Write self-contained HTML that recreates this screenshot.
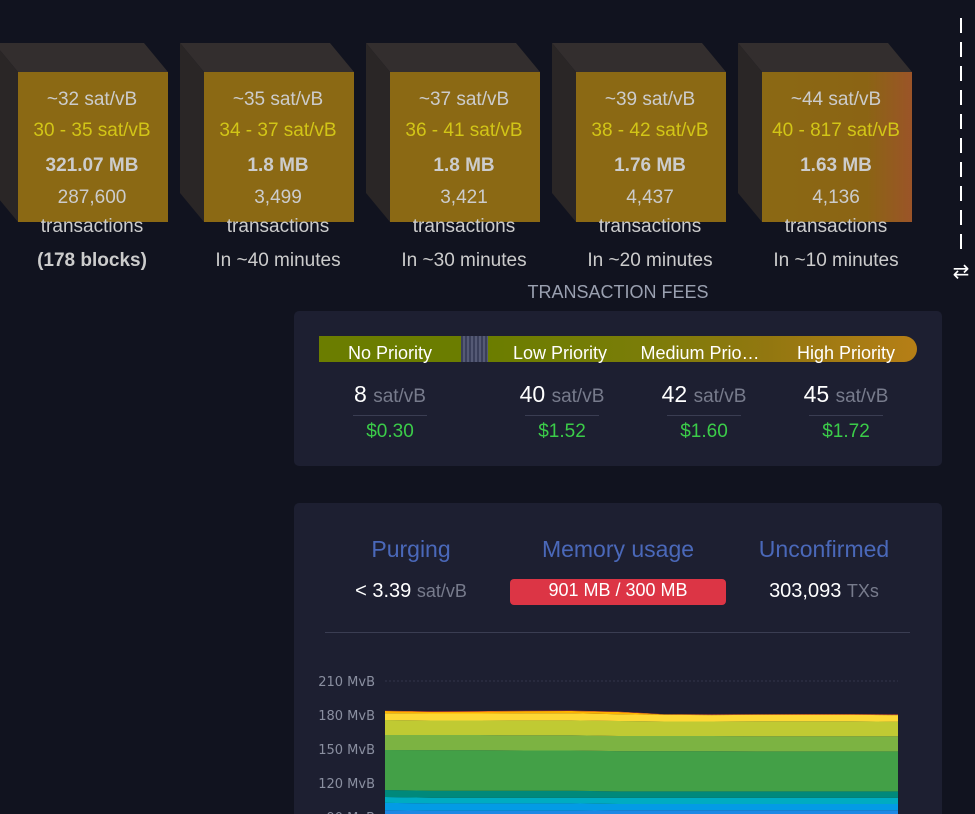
<!DOCTYPE html>
<html><head><meta charset="utf-8">
<style>
*{box-sizing:border-box;margin:0;padding:0}
body{width:975px;height:814px;overflow:hidden;background:#11131f;font-family:"Liberation Sans",sans-serif;position:relative;color:#fff}
.abs{position:absolute}
.t{position:absolute;width:186px;text-align:center;color:#ccc;font-size:19px;white-space:nowrap}
.y{color:#d2c517}
.b{font-weight:bold}
.panel{position:absolute;background:#1d1f31;border-radius:5px}
.c{position:absolute;text-align:center;white-space:nowrap}
</style></head><body>
<svg class="abs" style="left:0;top:0" width="975" height="290">
<defs>
<linearGradient id="g5" x1="0" x2="1"><stop offset="0" stop-color="#8b6914"/><stop offset="0.7" stop-color="#8b6414"/><stop offset="1" stop-color="#9b5428"/></linearGradient>
</defs>
<g id="blocks"></g>
<line x1="961" y1="18" x2="961" y2="252" stroke="#fff" stroke-width="2" stroke-dasharray="15,9"/>
<text x="961" y="278" fill="#fff" font-size="20" text-anchor="middle" font-family="DejaVu Sans">⇄</text>
</svg>
<div id="btext"></div>

<div class="c" style="left:468px;top:282px;width:300px;color:#9aa0b0;font-size:18px">TRANSACTION FEES</div>

<div class="panel" style="left:294px;top:311px;width:648px;height:155px">
  <div class="abs" style="left:25px;top:25px;width:142px;height:26px;background:#6b7d00"></div>
  <div class="abs" style="left:167px;top:25px;width:27px;height:26px;background:repeating-linear-gradient(90deg,#3a3f5a 0 2px,#555a75 2px 4px)"></div>
  <div class="abs" style="left:194px;top:25px;width:429px;height:26px;background:linear-gradient(90deg,#6b7d00,#7a7d08 35%,#927710 65%,#b67f16);border-radius:0 13px 13px 0"></div>
  <div class="c" style="left:25px;top:32px;width:142px;font-size:18px">No Priority</div>
  <div class="c" style="left:196px;top:32px;width:140px;font-size:18px">Low Priority</div>
  <div class="c" style="left:340px;top:32px;width:132px;font-size:18px">Medium Prio…</div>
  <div class="c" style="left:482px;top:32px;width:140px;font-size:18px">High Priority</div>
  <div id="fees"></div>
</div>

<div class="panel" style="left:294px;top:503px;width:648px;height:311px;border-radius:5px 5px 0 0">
  <div class="c" style="left:17px;top:33px;width:200px;color:#4a68b9;font-size:23px">Purging</div>
  <div class="c" style="left:224px;top:33px;width:200px;color:#4a68b9;font-size:23px">Memory usage</div>
  <div class="c" style="left:430px;top:33px;width:200px;color:#4a68b9;font-size:23px">Unconfirmed</div>
  <div class="c" style="left:17px;top:77px;width:200px;font-size:20px">&lt; 3.39 <span style="color:#777b8c;font-size:18px">sat/vB</span></div>
  <div class="c" style="left:216px;top:76px;width:216px;height:26px;background:#dc3545;border-radius:4px;font-size:18px;line-height:23px">901 MB / 300 MB</div>
  <div class="c" style="left:430px;top:77px;width:200px;font-size:20px">303,093 <span style="color:#777b8c;font-size:18px">TXs</span></div>
  <div class="abs" style="left:31px;top:129px;width:585px;height:1px;background:#3a3d52"></div>
</div>

<svg id="chart" class="abs" style="left:0;top:0" width="975" height="814"></svg>

<script>
const NS='http://www.w3.org/2000/svg';
const feeMedian=['~32 sat/vB','~35 sat/vB','~37 sat/vB','~39 sat/vB','~44 sat/vB'];
const feeRange=['30 - 35 sat/vB','34 - 37 sat/vB','36 - 41 sat/vB','38 - 42 sat/vB','40 - 817 sat/vB'];
const blockSize=['321.07 MB','1.8 MB','1.8 MB','1.76 MB','1.63 MB'];
const txCount=['287,600','3,499','3,421','4,437','4,136'];
const eta=['(178 blocks)','In ~40 minutes','In ~30 minutes','In ~20 minutes','In ~10 minutes'];
const bg=document.getElementById('blocks'),bt=document.getElementById('btext');
for(let i=0;i<5;i++){
  const x=-6+186*i;
  const g=document.createElementNS(NS,'g');
  
  
  const poly=(pts,f)=>{const p=document.createElementNS(NS,'polygon');p.setAttribute('points',pts);p.setAttribute('fill',f);g.appendChild(p);};
  poly(`${x},43 ${x+150},43 ${x+174},72 ${x+24},72`,'#332e2e');
  poly(`${x},43 ${x+24},72 ${x+24},222 ${x},193`,'#2a2626');
  const r=document.createElementNS(NS,'rect');
  r.setAttribute('x',x+24);r.setAttribute('y',72);r.setAttribute('width',150);r.setAttribute('height',150);
  r.setAttribute('fill',i==4?'url(#g5)':'#8b6914');g.appendChild(r);
  bg.appendChild(g);
  const cx=x+99-94;
  const lines=[[feeMedian[i],89,''],[feeRange[i],120,'y'],[blockSize[i],155,'b'],[txCount[i],187,''],['transactions',216,''],[eta[i],250,i==0?'b':'']];
  lines.forEach(([s,top,cl],k)=>{const d=document.createElement('div');d.className='t '+cl;d.style.left=cx+'px';d.style.top=top+'px';d.textContent=s;
    
    
    bt.appendChild(d);});
}
const feeRates=['8','40','42','45'];
const feeUsd=['$0.30','$1.52','$1.60','$1.72'];
const feeCx=[96,268,410,552];
const fe=document.getElementById('fees');
feeRates.forEach((v,i)=>{
  const d=document.createElement('div');d.className='c';d.style.left=(feeCx[i]-60)+'px';d.style.top='69px';d.style.width='120px';
  d.innerHTML=`<div style="font-size:23px;line-height:28px">${v} <span style="color:#777b8c;font-size:19px">sat/vB</span></div><div style="width:74px;height:1px;background:#3a3d52;margin:4px auto 5px"></div><div style="color:#3bcc49;font-size:19px">${feeUsd[i]}</div>`;
  
  
  fe.appendChild(d);
});
const yTicks=[90,120,150,180,210];
const tBlue=[96,95.5,95.5,95.5,95.5,96,96,96,96,96,96,96];
const tBlue2=[6.5,6.5,6.5,6.5,6.5,5.5,5.5,5.5,5.5,5.5,5.5,5.5];
const tCyan=[5.1,5,5,5,5,5.5,5.5,5.5,5.5,5.5,5.5,5.5];
const tTeal=[6.2,6.2,6.2,6.2,6.2,5.6,5.6,5.6,5.6,5.6,5.6,5.6];
const tGreen=[35.3,35.8,35.8,35.5,35.5,35.5,35.5,35.5,35.3,35.3,35.3,35.3];
const tLGreen=[13.3,13.3,13.3,13.4,13.4,13.4,13.4,13.4,13.4,13.4,13.4,13.4];
const tLime=[13.2,12.8,12.8,13.2,13.2,13.2,12.8,12.8,13.2,13.2,13.2,12.8];
const tYellow=[5.9,6.2,6.2,6.2,6.2,6,5.8,5.6,5.6,5.6,5.6,5.8];
const tOrange=[2,1.5,1.7,1.9,2,2,0.4,0.3,0.3,0.3,0.3,0.3];
const tRed=[0.3,0.4,0.4,0.4,0.4,0.3,0.2,0.3,0.3,0.4,0.4,0.3];
const layers=[tBlue,tBlue2,tCyan,tTeal,tGreen,tLGreen,tLime,tYellow,tOrange,tRed];
const colors=['#1e88e5','#039be5','#00acc1','#00897b','#43a047','#7cb342','#c0ca33','#fdd835','#ffb300','#e53935'];
const X0=385,X1=898;
const yS=v=>681+(210-v)*34/30;
const xS=i=>X0+(X1-X0)*i/(tBlue.length-1);
const ch=document.getElementById('chart');
yTicks.forEach(t=>{
  const tx=document.createElementNS(NS,'text');tx.setAttribute('x',375);tx.setAttribute('y',yS(t)+5);tx.setAttribute('text-anchor','end');
  tx.setAttribute('fill','#8a8fa0');tx.setAttribute('font-size','13');tx.setAttribute('font-family','DejaVu Sans');tx.textContent=t+' MvB';
  
  
  ch.appendChild(tx);
  const ln=document.createElementNS(NS,'line');ln.setAttribute('x1',X0);ln.setAttribute('x2',X1);ln.setAttribute('y1',yS(t));ln.setAttribute('y2',yS(t));
  ln.setAttribute('stroke','#33364a');ln.setAttribute('stroke-dasharray','2,2');
  ch.appendChild(ln);
});
const n=tBlue.length;let base=new Array(n).fill(0);
layers.forEach((L,k)=>{
  const top=base.map((b,i)=>b+L[i]);
  let d='';for(let i=0;i<n;i++)d+=(i?'L':'M')+xS(i)+','+yS(top[i]);
  for(let i=n-1;i>=0;i--)d+='L'+xS(i)+','+yS(base[i]);
  const p=document.createElementNS(NS,'path');p.setAttribute('d',d+'Z');p.setAttribute('fill',colors[k]);
  
  
  ch.appendChild(p);
  base=top;
});
</script>
</body></html>
